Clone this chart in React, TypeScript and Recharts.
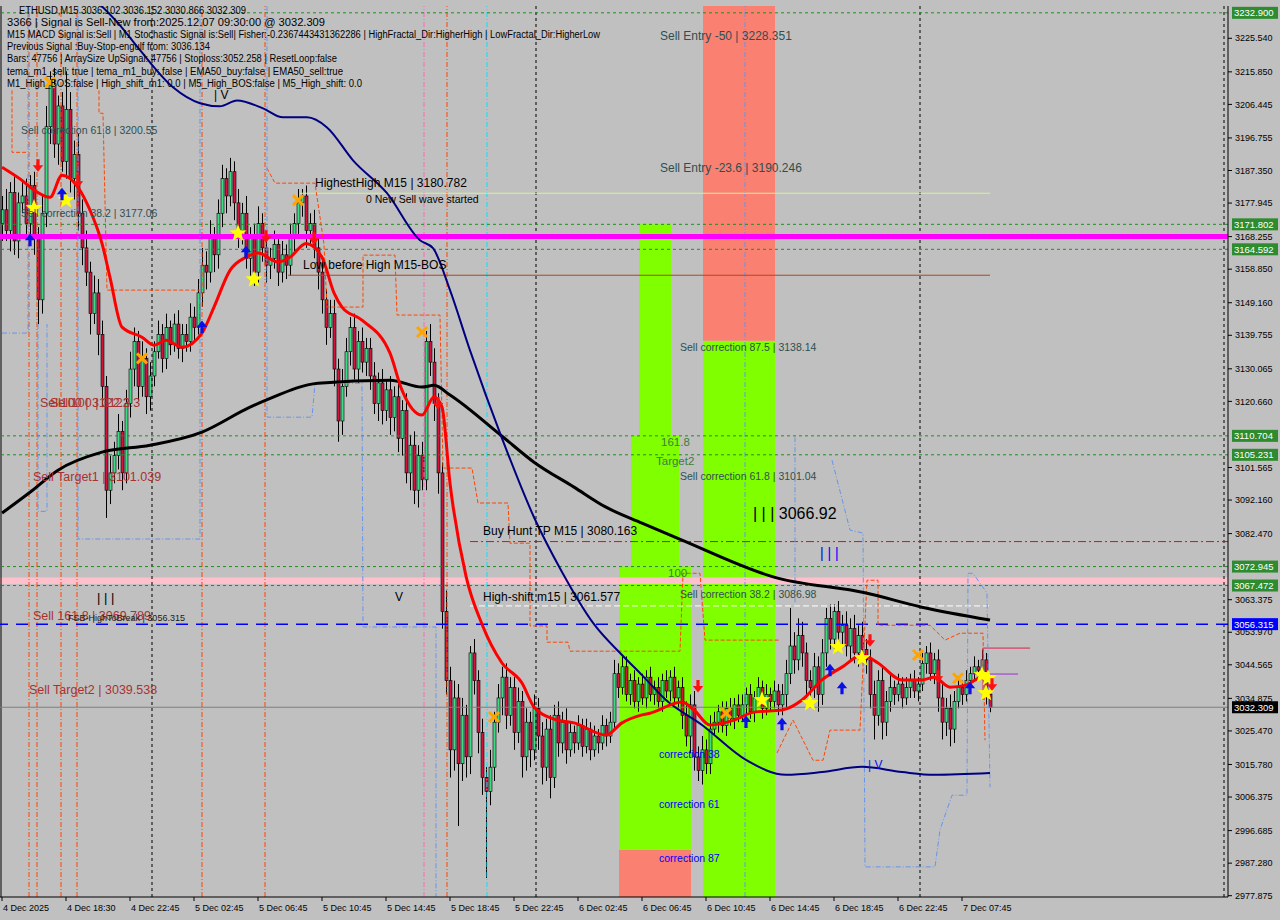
import React from "react"
import {
  ComposedChart,
  Bar,
  Line,
  Scatter,
  XAxis,
  YAxis,
  ReferenceLine,
  ReferenceArea,
  ReferenceDot,
} from "recharts"

const FONT = "'Liberation Sans', Arial, sans-serif"

// text block drawn by the indicator in the top-left corner
const headerLines = [
  "ETHUSD,M15  3036.102 3036.152 3030.866 3032.309",
  "3366 | Signal is Sell-New from:2025.12.07 09:30:00 @ 3032.309",
  "M15 MACD Signal is:Sell | M1 Stochastic Signal is:Sell| Fisher:-0.2367443431362286 | HighFractal_Dir:HigherHigh | LowFractal_Dir:HigherLow",
  "Previous Signal :Buy-Stop-engulf from: 3036.134",
  "Bars: 47756 | ArraySize UpSignal: 47756 | Stoploss:3052.258 | ResetLoop:false",
  "tema_m1_sell: true | tema_m1_buy: false | EMA50_buy:false | EMA50_sell:true",
  "M1_High_BOS:false | High_shift_m1: 0.0 | M5_High_BOS:false | M5_High_shift: 0.0",
]
const headerWidths = [227, 318, 593, 203, 330, 336, 355]

const timeTicks = [0, 16, 32, 48, 64, 80, 96, 112, 128, 144, 160, 176, 192, 208, 224, 240]
const timeLabels = [
  "4 Dec 2025", "4 Dec 18:30", "4 Dec 22:45", "5 Dec 02:45", "5 Dec 06:45", "5 Dec 10:45",
  "5 Dec 14:45", "5 Dec 18:45", "5 Dec 22:45", "6 Dec 02:45", "6 Dec 06:45", "6 Dec 10:45",
  "6 Dec 14:45", "6 Dec 18:45", "6 Dec 22:45", "7 Dec 07:45",
]

const priceTicks = [
  3225.54, 3215.85, 3206.445, 3196.755, 3187.35, 3177.945, 3168.255, 3158.85, 3149.16, 3139.755,
  3130.065, 3120.66, 3101.565, 3092.16, 3082.47, 3063.375, 3053.97, 3044.565, 3034.875, 3025.47,
  3015.78, 3006.375, 2996.685, 2987.28, 2977.875,
]

// M15 candles: close of every bar, open = previous close
const firstOpen = 3172
const closes = [
  3176, 3170, 3181, 3167, 3178, 3180, 3172, 3183, 3168, 3150, 3175,
  3200, 3212, 3195, 3206, 3190, 3205, 3185, 3192, 3175,
  3165, 3158, 3146, 3152, 3140, 3125, 3095, 3100, 3105, 3112, 3100, 3120, 3130,
  3138, 3125, 3133, 3122, 3128, 3135, 3140, 3133, 3142, 3137, 3143, 3136, 3140, 3138,
  3145, 3142, 3152, 3160, 3158, 3168, 3163, 3175, 3185, 3180, 3187, 3178,
  3170, 3175, 3162, 3168, 3158, 3172, 3165, 3160, 3162, 3166, 3158, 3163, 3160, 3168, 3172, 3178, 3180, 3170,
  3172, 3165, 3158, 3150, 3142, 3146, 3130, 3115, 3125, 3135, 3142, 3130, 3138, 3132, 3136, 3128, 3120, 3126, 3118, 3124, 3116, 3122,
  3110, 3118, 3100, 3108, 3095, 3105, 3098, 3138, 3132, 3120, 3100, 3060,
  3040, 3020, 3035, 3016, 3030, 3018, 3048, 3040, 3025, 3012, 3008, 3015, 3028, 3035, 3041, 3030, 3038,
  3025, 3034, 3018, 3028, 3020, 3032, 3024, 3015, 3026, 3012, 3030, 3022, 3028, 3020, 3025, 3022, 3027, 3021, 3026, 3020, 3024, 3022, 3027, 3024, 3028,
  3042, 3038, 3044, 3036, 3040, 3034, 3039, 3035, 3041, 3036, 3038, 3034, 3040, 3037, 3041, 3035, 3038,
  3030, 3024, 3033, 3018, 3014, 3020, 3016, 3026, 3028, 3031, 3027, 3032, 3029, 3033, 3030, 3033, 3036, 3031, 3035, 3038, 3032, 3036, 3034, 3037, 3033,
  3036, 3042, 3050, 3046, 3053, 3048, 3040, 3038, 3044, 3036, 3048, 3058, 3052, 3060, 3054, 3056, 3050, 3055, 3048, 3053, 3049, 3046,
  3036, 3030, 3040, 3028, 3034, 3038, 3036, 3039, 3035, 3038, 3040, 3037, 3039, 3045, 3048, 3042, 3046, 3035, 3028, 3032, 3026, 3034, 3038, 3036, 3040, 3042, 3044, 3043, 3046, 3036.102, 3032.309,
]
const wickUp = [
  4, 6, 3, 5, 3, 4, 5, 3, 4, 3, 5,
  6, 4, 5, 3, 4, 11, 5, 4, 6,
  4, 5, 3, 5, 4, 4, 3, 5, 4, 5, 3, 4, 5,
  4, 3, 5, 3, 4, 3, 4, 3, 4, 2, 3, 4, 3, 3,
  4, 3, 4, 5, 4, 5, 3, 4, 4, 3, 4, 3,
  4, 3, 5, 3, 4, 5, 3, 4, 3, 4, 3, 4, 3, 4, 3, 4, 2, 3,
  3, 4, 3, 4, 3, 4, 4, 3, 5, 4, 3, 4, 3, 4, 3, 3, 4, 3, 4, 3, 4, 3,
  4, 3, 5, 3, 4, 3, 4, 3, 5, 4, 3, 3,
  6, 4, 5, 4, 5, 3, 2, 4, 3, 4, 3, 5, 3, 4, 3, 4, 3,
  3, 4, 3, 4, 3, 4, 3, 4, 3, 4, 3, 4, 3, 4, 3, 2, 3, 2, 3, 2, 3, 2, 3, 2, 3,
  4, 3, 3, 3, 2, 3, 2, 3, 2, 3, 2, 3, 2, 3, 2, 3, 2,
  3, 4, 3, 4, 3, 4, 3, 4, 3, 2, 3, 2, 3, 2, 3, 3, 2, 3, 2, 3, 2, 3, 2, 3, 2,
  3, 4, 11, 4, 5, 4, 3, 3, 4, 3, 4, 3, 4, 2, 3, 3, 4, 3, 4, 3, 4, 3,
  3, 4, 3, 4, 3, 4, 2, 3, 2, 3, 2, 3, 2, 3, 2, 3, 2, 3, 4, 3, 4, 3, 3, 2, 3, 2, 3, 2, 3, 2, 0.05,
]
const wickDn = [
  5, 3, 6, 4, 5, 3, 4, 6, 5, 7, 4,
  4, 5, 4, 6, 3, 5, 4, 6, 5,
  5, 4, 6, 3, 6, 6, 8, 4, 3, 4, 5, 3, 4,
  5, 4, 3, 5, 4, 3, 2, 4, 3, 3, 2, 3, 4, 3,
  3, 4, 2, 4, 5, 3, 5, 4, 4, 5, 3, 5,
  5, 4, 3, 5, 4, 3, 4, 5, 4, 3, 4, 3, 4, 3, 4, 3, 4, 5,
  4, 3, 5, 4, 5, 3, 5, 6, 4, 3, 4, 3, 4, 3, 4, 4, 3, 5, 4, 3, 5, 4,
  4, 5, 3, 5, 4, 5, 3, 3, 4, 5, 6, 5,
  4, 8, 6, 18, 5, 6, 5, 4, 6, 5, 25, 4, 4, 3, 5, 4, 3,
  5, 3, 6, 4, 5, 3, 4, 5, 4, 6, 3, 4, 3, 4, 2, 3, 2, 3, 2, 3, 2, 3, 2, 3, 2,
  2, 3, 2, 2, 3, 2, 3, 2, 3, 2, 3, 2, 3, 2, 3, 2, 3,
  4, 3, 5, 4, 3, 4, 3, 3, 2, 3, 2, 3, 2, 3, 2, 2, 3, 2, 3, 2, 3, 2, 3, 2, 3,
  3, 4, 3, 4, 3, 4, 5, 4, 3, 5, 3, 4, 3, 4, 3, 4, 3, 4, 3, 4, 3, 4,
  4, 7, 3, 5, 4, 3, 3, 2, 3, 2, 3, 2, 3, 2, 3, 2, 3, 4, 5, 4, 5, 4, 2, 3, 2, 3, 2, 3, 2, 3, 1.443,
]

// moving averages, read at sample bars
const emaBars = [0, 5, 8, 12, 15, 19, 22, 25, 27, 30, 35, 38, 41, 45, 50, 53, 57, 61, 64, 69, 72, 76, 80, 83, 85, 90, 97, 100, 105, 108, 110, 112, 116, 120, 125, 130, 133, 138, 143, 151, 155, 160, 162, 170, 173, 177, 183, 188, 195, 200, 205, 210, 215, 219, 225, 230, 233, 237, 241, 245, 247]
const emaValues = [3188.3, 3184.5, 3181.7, 3179.6, 3186.0, 3182.5, 3175.9, 3166.3, 3156.5, 3142.1, 3139.2, 3136.9, 3138.3, 3136.3, 3140.4, 3147.9, 3158.5, 3162.3, 3163.5, 3160.9, 3162.3, 3166.3, 3162.3, 3152.0, 3147.9, 3144.1, 3134.6, 3123.9, 3116.7, 3121.9, 3119.0, 3097.0, 3070.2, 3056.3, 3045.1, 3039.3, 3032.4, 3028.9, 3027.8, 3024.3, 3027.8, 3030.1, 3030.6, 3033.8, 3031.5, 3027.2, 3028.6, 3030.9, 3031.5, 3034.4, 3040.2, 3043.9, 3047.4, 3045.1, 3040.2, 3040.2, 3041.0, 3038.1, 3038.7, 3041.0, 3040.2]
const smaBars = [0, 7, 14, 25, 37, 50, 62, 66, 79, 97, 105, 108, 112, 125, 133, 143, 151, 160, 170, 193, 216, 230, 247]
const smaValues = [3088.4, 3094.4, 3100.8, 3106.0, 3108.0, 3111.8, 3119.0, 3121.0, 3125.9, 3126.8, 3124.8, 3125.3, 3122.5, 3110.6, 3103.1, 3095.9, 3090.1, 3085.5, 3080.6, 3069.9, 3065.3, 3061.2, 3057.5]
const navyBars = [24, 29.5, 34.5, 42.75, 49.5, 54.5, 58.75, 65.25, 70.25, 76.25, 81.25, 87.75, 96.25, 104.5, 107.75, 112, 117, 125, 133, 140, 148, 155, 160, 166, 175, 186, 196, 205, 215, 225, 233, 247]
const navyValues = [3235.9, 3229.3, 3222.1, 3211.4, 3206.8, 3205.9, 3207.6, 3205.3, 3202.7, 3202.7, 3199.8, 3190.3, 3180.8, 3167.2, 3164.9, 3152.8, 3135.4, 3110.0, 3087.2, 3071.4, 3056.3, 3047.4, 3041.6, 3034.4, 3027.2, 3017.1, 3012.8, 3013.6, 3015.1, 3013.6, 3012.8, 3013.3]

// channel step lines [bar, price]
const orangePaths = [
  [[2.5, 3210.5], [2.5, 3192.6], [6.25, 3192.6]],
  [[24.25, 3210.5], [24.25, 3203.9], [25.25, 3203.9], [26.25, 3152.8], [49.5, 3152.8]],
  [[66.25, 3188.0], [68.25, 3183.7], [78.25, 3183.7], [80.5, 3166.0], [81.25, 3147.9], [90.25, 3147.9], [90.25, 3162.9], [98.25, 3162.9], [98.75, 3145.6], [109.5, 3145.6], [110.25, 3101.4], [117.5, 3101.4], [119, 3091.3], [126.5, 3091.3], [127, 3079.7], [132, 3079.7], [132, 3055.8], [136.25, 3055.8], [136.25, 3051.1], [141.5, 3051.1], [142, 3048.5], [169.5, 3048.5], [170.25, 3071.0], [174.5, 3071.0], [175.75, 3051.7], [194.5, 3051.7]],
  [[193.75, 3019.1], [197.75, 3028.6], [202.75, 3017.0], [205.25, 3017.0], [207, 3025.7], [214.5, 3025.7], [216.25, 3069.0], [219, 3069.0], [219, 3056.0], [232, 3056.0], [235.75, 3051.7], [239.5, 3053.7], [245.25, 3053.7], [245.75, 3022.8]],
]
const bluePaths = [
  [[0, 3140.4], [6.5, 3140.4], [6.5, 3234.8]],
  [[9, 3143.0], [9, 3088.9], [11.25, 3088.9], [11.25, 3143.0]],
  [[19, 3234.8], [19, 3080.9], [49.5, 3080.9], [49.5, 3234.8]],
  [[66.25, 3234.8], [66.25, 3116.1], [77.5, 3116.1], [78.25, 3125.9], [90, 3125.9], [90.25, 3055.5], [108.5, 3055.5], [108.5, 2977.6]],
  [[198.25, 3110.3], [198.25, 3062.4]],
  [[207.5, 3103.7], [212, 3083.5], [215.25, 3082.6], [215.75, 2986.2], [233.25, 2986.2], [234.5, 2996.9], [237.5, 3006.9], [241.25, 3006.9], [241.5, 3071.0], [242.75, 3071.0], [246.25, 3065.3], [247, 3009.2]],
]

const greenLevels = [3232.9, 3171.802, 3164.592, 3110.704, 3105.231, 3072.945, 3067.472]
const orangeVerticals = [6.75, 8.75, 14.75, 18.75, 50, 65.75, 111.25]
const daySeparators = [37.5, 133.5, 229.5, 305.5]

// signal markers [bar, price]
const downArrows = [[9, 3188.3], [19, 3183.7], [66, 3167.8], [78, 3167.2], [109, 3119.6], [174, 3037.9], [217, 3051.1], [234, 3040.7], [247.5, 3038.4]]
const upArrows = [[7, 3167.8], [15, 3181.1], [50, 3142.7], [61, 3164.3], [186, 3028.6], [195, 3028.0], [207, 3043.6], [210, 3038.4], [242, 3038.4]]
const stars = [[8, 3176.5], [16, 3178.8], [59, 3169.2], [63, 3155.9], [190, 3034.4], [202, 3033.5], [209, 3049.7], [215, 3046.5], [245, 3041.6], [246.5, 3040.7], [246, 3036.4]]
const crosses = [[12, 3212.8], [35, 3133.1], [74, 3178.8], [105, 3140.7], [123, 3029.5], [181, 3030.6], [229, 3047.4], [239, 3040.7]]

const candles = closes.map((c, i) => {
  const o = i === 0 ? firstOpen : closes[i - 1]
  return { x: i, o, c, h: Math.max(o, c) + wickUp[i], l: Math.min(o, c) - wickDn[i] }
})
const series = (bars: number[], vals: number[]) => bars.map((b, i) => ({ x: b, v: vals[i] }))
const points = (pts: number[][]) => pts.map(([x, v]) => ({ x, y: v, v }))

function Candle(props: any) {
  const { x, y, width, height, payload } = props
  if (!payload || height == null) return null
  const { o, c, h, l } = payload
  const top = Math.min(y, y + height)
  const span = Math.abs(height)
  const ppu = span / (h - l || 1)
  const cx = Math.round(x + width / 2) + 0.5
  const yO = top + (h - o) * ppu
  const yC = top + (h - c) * ppu
  const bodyTop = Math.min(yO, yC)
  const bodyH = Math.max(Math.abs(yO - yC), 1)
  return (
    <g>
      <line x1={cx} x2={cx} y1={top} y2={top + span} stroke="#000" strokeWidth={1} />
      <rect x={cx - 1.5} y={bodyTop} width={3} height={bodyH} fill={c >= o ? "#3ddc84" : "#d2143c"} stroke="#000" strokeWidth={0.6} />
    </g>
  )
}

const Star = (p: any) => {
  const pts: string[] = []
  for (let k = 0; k < 10; k++) {
    const r = k % 2 === 0 ? 9 : 3.8
    const a = -Math.PI / 2 + (k * Math.PI) / 5
    pts.push(`${p.cx + r * Math.cos(a)},${p.cy + r * Math.sin(a)}`)
  }
  return <polygon points={pts.join(" ")} fill="#ffff00" />
}
const DownArrow = (p: any) => (
  <path d={`M${p.cx - 1.6},${p.cy - 8} h3.2 v6 h3.6 l-5.2,6.5 l-5.2,-6.5 h3.6 z`} fill="#ff1010" />
)
const UpArrow = (p: any) => (
  <path d={`M${p.cx - 1.6},${p.cy + 8} h3.2 v-6 h3.6 l-5.2,-6.5 l-5.2,6.5 h3.6 z`} fill="#0a10e6" />
)
const Cross = (p: any) => (
  <g stroke="#ffa500" strokeWidth={3}>
    <line x1={p.cx - 5} y1={p.cy - 5} x2={p.cx + 5} y2={p.cy + 5} />
    <line x1={p.cx - 5} y1={p.cy + 5} x2={p.cx + 5} y2={p.cy - 5} />
  </g>
)

const priceTag = (value: number, fill: string) => (props: any) => {
  const vb = props.viewBox || {}
  const x = (vb.x ?? 0) + (vb.width ?? 0) + 4
  const y = vb.y ?? 0
  return (
    <g>
      <rect x={x} y={y - 6} width={46} height={12} fill={fill} />
      <text x={x + 2} y={y + 3.5} fill="#fff" fontSize={9.5} fontFamily={FONT}>
        {value.toFixed(3)}
      </text>
    </g>
  )
}

const note = (key: string, x: number, y: number, text: string, color: string, size: number) => (
  <ReferenceDot
    key={key}
    x={x}
    y={y}
    r={0}
    shape={(p: any) => (
      <text x={p.cx} y={p.cy} dominantBaseline="central" fill={color} fontSize={size} fontFamily={FONT}>
        {text}
      </text>
    )}
  />
)

const TimeTick = (props: any) => {
  const { x, y, payload } = props
  const idx = timeTicks.indexOf(payload.value)
  return (
    <text x={x + 1} y={y + 8} fontSize={9} fontFamily={FONT} fill="#000">
      {timeLabels[idx]}
    </text>
  )
}

const SLATE = "#2f4f4f"
const BROWN = "#a83232"
const GREENTXT = "#3d7d3d"

export default function App() {
  return (
    <div style={{ position: "absolute", left: 0, top: 0, width: 1280, height: 920, background: "#c0c0c0" }}>
      <ComposedChart width={1280} height={920} data={candles} margin={{ top: 6, right: 0, bottom: 0, left: 0 }}>
        <XAxis
          dataKey="x"
          type="number"
          domain={[-0.5, 306.5]}
          allowDataOverflow
          ticks={timeTicks}
          interval={0}
          height={23}
          tickSize={4}
          tickMargin={2}
          axisLine={{ stroke: "#000" }}
          tickLine={{ stroke: "#000" }}
          tick={<TimeTick />}
        />
        <YAxis
          orientation="right"
          width={52}
          type="number"
          domain={[2977.5, 3234.87]}
          allowDataOverflow
          ticks={priceTicks}
          interval={0}
          tickSize={4}
          tickMargin={3}
          axisLine={{ stroke: "#000" }}
          tickLine={{ stroke: "#000" }}
          tick={{ fontSize: 9, fill: "#000", fontFamily: FONT }}
          tickFormatter={(v: number) => v.toFixed(3)}
        />

        {/* zones */}
        <ReferenceArea x1={159.25} x2={167.25} y1={3110.704} y2={3171.802} fill="#7fff00" fillOpacity={1} stroke="none" />
        <ReferenceArea x1={157.25} x2={169.25} y1={3072.945} y2={3110.704} fill="#7fff00" fillOpacity={1} stroke="none" />
        <ReferenceArea x1={154.25} x2={172.25} y1={2991.1} y2={3072.945} fill="#7fff00" fillOpacity={1} stroke="none" />
        <ReferenceArea x1={154.25} x2={172.25} y1={2977.5} y2={2991.1} fill="#fa8072" fillOpacity={1} stroke="none" />
        <ReferenceArea x1={175.25} x2={193.25} y1={2977.5} y2={3138.14} fill="#7fff00" fillOpacity={1} stroke="none" />
        <ReferenceArea x1={175.25} x2={193.25} y1={3138.14} y2={3234.87} fill="#fa8072" fillOpacity={1} stroke="none" />
        <ReferenceArea y1={3067.9} y2={3069.8} fill="#ffc0cb" fillOpacity={1} stroke="none" />

        {/* vertical markers */}
        <ReferenceLine x={-0.25} stroke="#000" />
        {daySeparators.map((d) => (
          <ReferenceLine key={"d" + d} x={d} stroke="#000" strokeDasharray="3 3" />
        ))}
        {orangeVerticals.map((d) => (
          <ReferenceLine key={"o" + d} x={d} stroke="#ff4500" strokeDasharray="5 2 1 2" />
        ))}
        <ReferenceLine x={105.5} stroke="#ff69b4" strokeDasharray="5 2 1 2" />
        <ReferenceLine x={121.25} stroke="#00e5ff" strokeDasharray="5 2 1 2" />
        <ReferenceLine x={185.75} stroke="#6495ed" strokeDasharray="5 2 1 2" />

        {/* horizontal levels */}
        {greenLevels.map((g) => (
          <ReferenceLine key={"g" + g} y={g} stroke="#1f8f1f" strokeDasharray="3 3" label={priceTag(g, "#2e8b2e")} />
        ))}
        <ReferenceLine y={3168.255} stroke="#ff00ff" strokeWidth={5} />
        <ReferenceLine y={3056.315} stroke="#0000ff" strokeWidth={1.5} strokeDasharray="12 8" label={priceTag(3056.315, "#0000ff")} />
        <ReferenceLine y={3032.309} stroke="#7f7f7f" label={priceTag(3032.309, "#000")} />
        <ReferenceLine segment={[{ x: 74.5, y: 3180.782 }, { x: 247, y: 3180.782 }]} stroke="#d2f58c" />
        <ReferenceLine segment={[{ x: 71.5, y: 3157.1 }, { x: 247, y: 3157.1 }]} stroke="#b4461e" />
        <ReferenceLine segment={[{ x: 117, y: 3080.163 }, { x: 306.5, y: 3080.163 }]} stroke="#ff0000" strokeDasharray="8 3 2 3" />
        <ReferenceLine segment={[{ x: 117, y: 3061.577 }, { x: 247, y: 3061.577 }]} stroke="#ffffff" strokeDasharray="6 3" />
        <ReferenceLine segment={[{ x: 245.25, y: 3049.4 }, { x: 257, y: 3049.4 }]} stroke="#e0204a" />
        <ReferenceLine segment={[{ x: 245.25, y: 3049.4 }, { x: 245.25, y: 3034.4 }]} stroke="#e0204a" />
        <ReferenceLine segment={[{ x: 242.5, y: 3041.9 }, { x: 254, y: 3041.9 }]} stroke="#9932cc" />

        {/* channels */}
        {orangePaths.map((p, i) => (
          <Line key={"op" + i} data={points(p)} dataKey="v" type="linear" stroke="#ff4500" strokeWidth={1} strokeDasharray="4 2" dot={false} isAnimationActive={false} />
        ))}
        {bluePaths.map((p, i) => (
          <Line key={"bp" + i} data={points(p)} dataKey="v" type="linear" stroke="#6495ed" strokeWidth={1} strokeDasharray="5 2 1 2" dot={false} isAnimationActive={false} />
        ))}

        <Bar dataKey={(d: any) => [d.l, d.h]} barSize={3} shape={<Candle />} isAnimationActive={false} />

        <Line data={series(smaBars, smaValues)} dataKey="v" type="monotone" stroke="#000" strokeWidth={3} dot={false} isAnimationActive={false} />
        <Line data={series(navyBars, navyValues)} dataKey="v" type="monotone" stroke="#000080" strokeWidth={2} dot={false} isAnimationActive={false} />
        <Line data={series(emaBars, emaValues)} dataKey="v" type="monotone" stroke="#ff0000" strokeWidth={3} dot={false} isAnimationActive={false} />

        <Scatter data={points(stars)} dataKey="y" shape={<Star />} isAnimationActive={false} />
        <Scatter data={points(crosses)} dataKey="y" shape={<Cross />} isAnimationActive={false} />
        <Scatter data={points(downArrows)} dataKey="y" shape={<DownArrow />} isAnimationActive={false} />
        <Scatter data={points(upArrows)} dataKey="y" shape={<UpArrow />} isAnimationActive={false} />

        {/* chart objects text */}
        {note("n1", 4.75, 3199.0, "Sell correction 61.8 | 3200.55", SLATE, 10.5)}
        {note("n2", 4.75, 3175.0, "Sell correction 38.2 | 3177.06", SLATE, 10.5)}
        {note("n3", 9.5, 3120.2, "Sell100 | 3122.3", BROWN, 12.5)}
        {note("n4", 12, 3120.2, "Sell100 | 3122.3", BROWN, 12.5)}
        {note("n5", 7.75, 3098.8, "Sell Target1 | 3101.039", BROWN, 12.5)}
        {note("n6", 7.75, 3058.6, "Sell 161.8 | 3069.789", BROWN, 12.5)}
        {note("n7", 16.5, 3058.1, "FSB-HighToBreak | 3056.315", "#1a1a1a", 9)}
        {note("n8", 6.75, 3037.3, "Sell Target2 | 3039.538", BROWN, 12.5)}
        {note("n9", 23.75, 3063.9, "|  |  |", "#000", 13)}
        {note("n10", 78.25, 3183.7, "HighestHigh   M15 | 3180.782", "#000", 12)}
        {note("n11", 91, 3179.1, "0 New Sell wave started", "#000", 10.5)}
        {note("n12", 75.25, 3160.0, "Low before High   M15-BOS", "#000", 12)}
        {note("n13", 120.25, 3083.2, "Buy Hunt  TP M15 | 3080.163", "#000", 12)}
        {note("n14", 120.25, 3064.2, "High-shift m15 | 3061.577", "#000", 12)}
        {note("n15", 98.25, 3064.2, "V", "#000", 12)}
        {note("n16", 53, 3209.1, "| V", "#000", 12)}
        {note("n17", 164.5, 3226.1, "Sell Entry -50 | 3228.351", SLATE, 12)}
        {note("n18", 164.5, 3188.0, "Sell Entry -23.6 | 3190.246", SLATE, 12)}
        {note("n19", 169.5, 3136.3, "Sell correction 87.5 | 3138.14", SLATE, 10.5)}
        {note("n20", 164.75, 3108.9, "161.8", GREENTXT, 11.5)}
        {note("n21", 163.5, 3103.4, "Target2", GREENTXT, 11.5)}
        {note("n22", 169.5, 3099.1, "Sell correction 61.8 | 3101.04", SLATE, 10.5)}
        {note("n23", 187.75, 3088.4, "| | |  3066.92", "#000", 16)}
        {note("n24", 204.5, 3076.8, "| | |", "#0000ff", 14)}
        {note("n25", 166.5, 3071.0, "100", GREENTXT, 11.5)}
        {note("n26", 169.5, 3065.0, "Sell correction 38.2 | 3086.98", SLATE, 10.5)}
        {note("n27", 164.25, 3018.8, "correction 38", "#0000ff", 10.5)}
        {note("n28", 164.25, 3004.4, "correction 61", "#0000ff", 10.5)}
        {note("n29", 164.25, 2988.8, "correction 87", "#0000ff", 10.5)}
        {note("n30", 216.5, 3015.6, "| V", "#0a10e6", 12)}
      </ComposedChart>

      <svg width={1280} height={100} style={{ position: "absolute", left: 0, top: 0, pointerEvents: "none" }}>
        {headerLines.map((t, i) => (
          <text
            key={i}
            x={i === 0 ? 19 : 7}
            y={13.5 + i * 12.2}
            fontSize={10}
            fontFamily={FONT}
            fill="#000"
            textLength={headerWidths[i]}
            lengthAdjust="spacingAndGlyphs"
          >
            {t}
          </text>
        ))}
      </svg>
    </div>
  )
}
